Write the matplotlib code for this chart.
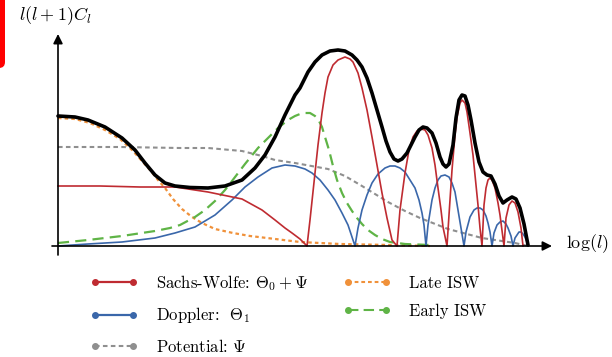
import matplotlib
matplotlib.use("Agg")
import matplotlib.pyplot as plt
from matplotlib.lines import Line2D
from matplotlib.patches import FancyBboxPatch

plt.rcParams["font.family"] = "cmr10"
plt.rcParams["mathtext.fontset"] = "cm"
plt.rcParams["axes.formatter.use_mathtext"] = True

# schematic spectrum components as (log l position, l(l+1)C_l height)
total = [(0, 130), (17, 129), (30, 126), (47, 119), (64, 108), (77, 96), (87, 83),
         (97, 71), (107, 63), (117, 60), (132, 58.5), (150, 58), (167, 60),
         (184, 66), (197, 78), (207, 91), (217, 109), (227, 131), (237, 151),
         (242, 158), (250, 174), (257, 184), (264, 191), (272, 195), (280, 196),
         (287, 195), (294, 191), (299, 186), (304, 179), (309, 168), (314, 153),
         (319, 136), (324, 119), (328, 105), (332, 94), (336, 87), (340, 85),
         (344, 87), (349, 93), (353, 101), (357, 109), (361, 116), (365, 119),
         (369, 118), (374, 113), (378, 103), (382, 89), (385, 82), (388, 79),
         (391, 82), (395, 101), (398, 128), (401, 146), (404, 151), (407, 150),
         (410, 141), (413, 126), (417, 103), (421, 84), (425, 74), (429, 71),
         (433, 70), (437, 62), (441, 50), (445, 43), (449, 46), (454, 49),
         (458, 47), (462, 38), (466, 22), (470, 1)]

sachs_wolfe = [(0, 60), (42, 60), (82, 59), (117, 59), (150, 54), (184, 47),
               (204, 36), (217, 26), (227, 18), (234, 13), (242, 7), (249, 0),
               (252, 26), (257, 73), (260, 101), (264, 133), (267, 153), (270, 169),
               (275, 181), (280, 186), (287, 189), (292, 187), (295, 184),
               (300, 173), (304, 158), (309, 136), (314, 109), (319, 81),
               (324, 53), (329, 28), (334, 6), (339, 0),
               (342, 36), (347, 73), (351, 96), (355, 109), (359, 115), (363, 117),
               (367, 116), (370, 111), (374, 98), (377, 81), (380, 58), (383, 36),
               (385, 19), (389, 0),
               (391, 31), (394, 76), (397, 111), (399, 129), (402, 143), (404, 146),
               (407, 143), (409, 134), (412, 113), (415, 91), (417, 71), (420, 41),
               (422, 18), (424, 0),
               (426, 41), (428, 58), (430, 66), (432, 68), (434, 66), (437, 58),
               (440, 43), (442, 31), (446, 0),
               (448, 28), (451, 41), (454, 45), (457, 43), (460, 34), (463, 18),
               (465, 0)]

doppler = [(0, 0), (30, 2), (64, 4), (97, 8), (117, 13), (137, 19), (157, 31),
           (174, 46), (187, 59), (200, 69), (214, 78), (227, 81), (237, 80),
           (247, 77), (254, 73), (262, 66), (270, 56), (277, 46), (284, 33),
           (290, 21), (294, 9), (297, 0),
           (300, 18), (304, 36), (309, 51), (314, 63), (320, 72), (327, 78),
           (332, 80), (337, 80), (342, 78), (347, 74), (352, 66), (357, 58),
           (361, 46), (364, 33), (366, 21), (368, 0),
           (370, 21), (374, 46), (377, 58), (380, 66), (383, 70), (387, 71),
           (391, 69), (394, 63), (397, 54), (400, 36), (403, 18), (406, 0),
           (408, 14), (412, 29), (416, 36), (419, 38), (422, 38), (425, 36),
           (428, 30), (430, 23), (432, 14), (434, 0),
           (436, 13), (439, 21), (442, 24), (445, 25), (448, 22), (450, 18),
           (453, 10), (455, 0),
           (457, 8), (459, 11), (461, 14), (463, 14), (465, 12), (467, 9),
           (469, 4), (470, 0)]

late_isw = [(0, 128), (17, 127), (32, 123), (47, 116), (62, 107), (74, 96),
            (84, 85), (92, 76), (100, 66), (107, 58), (115, 47), (124, 37),
            (134, 29), (144, 23), (157, 17), (175, 13), (192, 10), (209, 8),
            (242, 4), (282, 2), (332, 1), (372, 0)]

early_isw = [(0, 3), (30, 6), (64, 10), (97, 15), (112, 18), (122, 21), (137, 29),
             (147, 36), (157, 45), (167, 56), (174, 65), (187, 82), (200, 98),
             (210, 108), (220, 118), (230, 126), (237, 130), (242, 132),
             (247, 133), (252, 133), (257, 130), (260, 127), (264, 119),
             (267, 109), (271, 96), (275, 80), (279, 66), (284, 53), (289, 43),
             (294, 35), (299, 28), (304, 22), (310, 16), (317, 11), (324, 7),
             (332, 4), (347, 2), (372, 1)]

potential = [(0, 99), (62, 99), (122, 98), (150, 98), (184, 95), (204, 90),
             (217, 86), (237, 83), (270, 77), (287, 70), (304, 60), (317, 52),
             (330, 44), (347, 35), (362, 28), (390, 17), (424, 8), (457, 3),
             (470, 0)]

red = "#bf2b31"
blue = "#3a67aa"
orange = "#f0913a"
green = "#5fb446"
grey = "#8f8f8f"

fig = plt.figure(figsize=(6.12, 3.57), dpi=100)
ax = fig.add_axes([0, 0, 1, 1])
ax.set_xlim(-58, 554)
ax.set_ylim(-111, 246)
ax.axis("off")


def draw(points, **kw):
    xs, ys = zip(*points)
    ax.plot(xs, ys, **kw)


draw(potential, color=grey, lw=1.5, ls=(0, (2.2, 1.6)), zorder=2)
draw(late_isw, color=orange, lw=1.6, ls=(0, (1.6, 1.4)), zorder=2)
draw(early_isw, color=green, lw=1.6, ls=(0, (5, 2.8)), zorder=2)
draw(doppler, color=blue, lw=1.2, zorder=3)
draw(sachs_wolfe, color=red, lw=1.2, zorder=4)
draw(total, color="black", lw=2.6, zorder=5,
     solid_joinstyle="round", solid_capstyle="round")

# axes arrows
arrow = dict(arrowstyle="-|>", lw=1.2, color="black", mutation_scale=14,
             shrinkA=0, shrinkB=0)
ax.annotate("", xy=(0, 212), xytext=(0, -9), arrowprops=arrow, zorder=6)
ax.annotate("", xy=(494, 0), xytext=(-6, 0), arrowprops=arrow, zorder=6)
ax.text(-39, 230, r"$l(l+1)C_l$", fontsize=13, ha="left", va="center")
ax.text(508, 2, r"$\log(l)$", fontsize=13, ha="left", va="center")

# red tab in the corner
ax.add_patch(FancyBboxPatch((-80, 178), 27, 90,
                            boxstyle="round,pad=0,rounding_size=6",
                            fc="#ff0000", ec="none", clip_on=True))

handles = [
    Line2D([], [], color=red, lw=1.6, marker="o", ms=4),
    Line2D([], [], color=blue, lw=1.6, marker="o", ms=4),
    Line2D([], [], color=grey, lw=1.5, ls=(0, (2.2, 1.6)), marker="o", ms=4),
    Line2D([], [], color=orange, lw=1.5, ls=(0, (1.8, 1.4)), marker="o", ms=4),
    Line2D([], [], color=green, lw=1.5, ls=(0, (5, 2.5)), marker="o", ms=4),
]
labels = [
    r"Sachs-Wolfe: $\Theta_0 + \Psi$",
    r"Doppler:  $\Theta_1$",
    r"Potential: $\Psi$",
    "Late ISW",
    "Early ISW",
]
fig.legend(handles, labels, ncol=2, loc="upper left",
           bbox_to_anchor=(90 / 612, 1 - 273 / 357), frameon=False,
           fontsize=12, numpoints=2, handlelength=2.88, handletextpad=1.08,
           columnspacing=2.05, labelspacing=0.75, borderpad=0, borderaxespad=0)

fig.savefig("out.png", dpi=100)
